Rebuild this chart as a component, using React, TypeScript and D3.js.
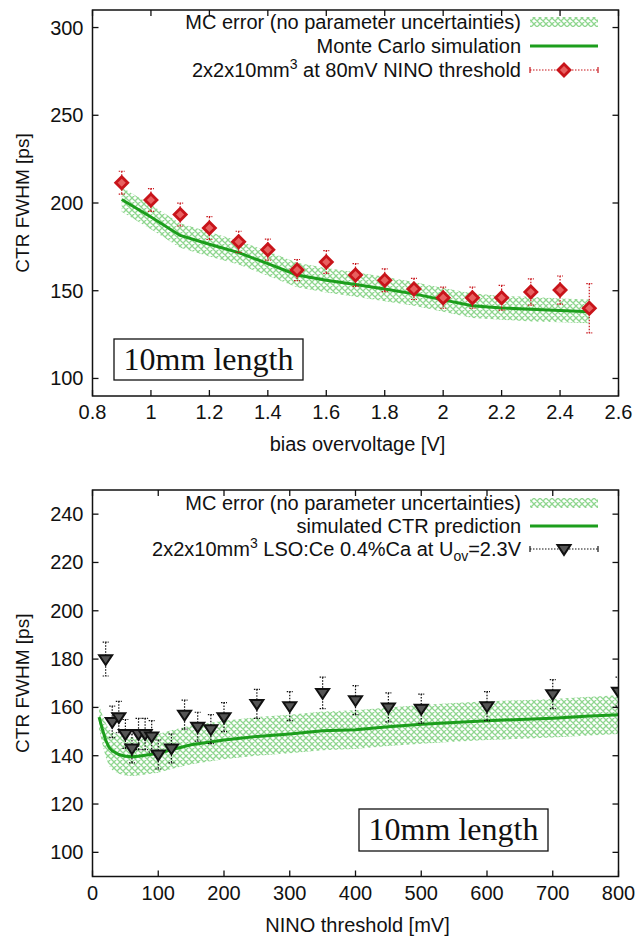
import React from "react";
import * as d3 from "d3";

// ---------- DATA: top panel (CTR vs bias overvoltage) ----------
const biasV = [0.9, 1.0, 1.1, 1.2, 1.3, 1.4, 1.5, 1.6, 1.7, 1.8, 1.9, 2.0, 2.1, 2.2, 2.3, 2.4, 2.5];
const biasMeas = [211.6, 201.7, 193.4, 185.7, 177.9, 173.4, 161.8, 166.4, 159, 156, 151, 146, 146, 146, 149.3, 150.4, 140];
const biasErr = [6.5, 6.5, 6.5, 6.5, 6, 6, 6, 6.5, 6.5, 6.5, 6, 6, 6, 7, 7.5, 8, 14];
const biasSim = [202, 192, 181.5, 176.5, 171.7, 165.4, 159, 156, 153.5, 151, 148.2, 144.8, 141.5, 140.2, 139.5, 138.7, 138];
const biasBandLo = [195, 185, 174.5, 169.5, 165, 158.5, 152, 149, 146.5, 144, 141.5, 138, 134.5, 133.5, 132.5, 132, 131.5];
const biasBandHi = [209, 199, 188.5, 183.5, 178.5, 172.5, 166, 163, 160.5, 158, 155, 151.5, 148.5, 147, 146.5, 145.5, 145];
const biasXTicks = [0.8, 1, 1.2, 1.4, 1.6, 1.8, 2, 2.2, 2.4, 2.6];
const biasYTicks = [100, 150, 200, 250, 300];

// ---------- DATA: bottom panel (CTR vs NINO threshold) ----------
const thrX = [20, 30, 40, 50, 60, 70, 80, 90, 100, 120, 140, 160, 180, 200, 250, 300, 350, 400, 450, 500, 600, 700, 800];
const thrMeas = [180, 154, 156, 149, 143, 149, 149, 148, 140.5, 143, 157, 152, 151, 156, 161.5, 160.5, 166, 163, 160, 159.5, 160.5, 165.5, 166.5];
const thrErr = [7, 6.5, 6.5, 6, 6, 6.5, 6.5, 6.5, 6, 6, 6, 6, 6, 6, 6, 6, 6.5, 6, 6, 6, 6, 6, 6];
const thrSimX = [10, 15, 20, 25, 30, 40, 50, 60, 70, 80, 100, 120, 150, 200, 250, 300, 350, 400, 450, 500, 550, 600, 650, 700, 750, 800];
const thrSim = [156, 151, 146.5, 143.5, 142, 140.5, 139.8, 139.6, 139.8, 140.2, 141, 142.5, 144.5, 146.5, 148, 149, 150.3, 150.8, 152, 153, 153.8, 154.5, 155, 155.5, 156.3, 157];
const thrBandLo = [151, 145, 139.5, 136, 134, 132.5, 131.8, 131.6, 131.8, 132.2, 133, 134.5, 136.5, 138.5, 140, 141, 142.3, 142.8, 144, 145, 145.8, 146.5, 147, 147.5, 148.3, 149];
const thrBandHi = [161, 157, 153.5, 151, 150, 148.5, 147.8, 147.6, 147.8, 148.2, 149, 150.5, 152.5, 154.5, 156, 157, 158.3, 158.8, 160, 161, 161.8, 162.5, 163, 163.5, 164.3, 165];
const thrXTicks = [0, 100, 200, 300, 400, 500, 600, 700, 800];
const thrYTicks = [100, 120, 140, 160, 180, 200, 220, 240];

const FONT = "'Liberation Sans', Arial, Helvetica, sans-serif";
const SERIF = "'Liberation Serif', 'Times New Roman', serif";
const GREEN = "#1c9e1c";
const RED = "#c8141a";
const FS = 20;

type PanelProps = {
  top: number;
  bottom: number;
  xDomain: [number, number];
  yDomain: [number, number];
  xTicks: number[];
  yTicks: number[];
  xFmt: (v: number) => string;
  xLabel: string;
  simX: number[];
  sim: number[];
  bandLo: number[];
  bandHi: number[];
  mx: number[];
  my: number[];
  me: number[];
  marker: "diamond" | "triangle";
  legend: React.ReactNode[];
  legendY: number[];
  box: { x: number; y: number; w: number; h: number };
};

const LEFT = 92.5;
const RIGHT = 618.5;

function Marker({ kind, x, y }: { kind: "diamond" | "triangle"; x: number; y: number }) {
  if (kind === "diamond") {
    const r = 6;
    return (
      <path
        d={`M${x},${y - r} L${x + r},${y} L${x},${y + r} L${x - r},${y} Z`}
        fill="#e86060"
        stroke={RED}
        strokeWidth={2.8}
      />
    );
  }
  const s = 6.5;
  return (
    <path
      d={`M${x - s},${y - s * 0.6} L${x + s},${y - s * 0.6} L${x},${y + s * 0.9} Z`}
      fill="#555"
      stroke="#111"
      strokeWidth={2}
    />
  );
}

function Panel(p: PanelProps) {
  const x = d3.scaleLinear().domain(p.xDomain).range([LEFT, RIGHT]);
  const y = d3.scaleLinear().domain(p.yDomain).range([p.bottom, p.top]);
  const pid = `hatch-${p.top}`;
  const area = d3
    .area<number>()
    .x((_, i) => x(p.simX[i]))
    .y0((_, i) => y(p.bandLo[i]))
    .y1((_, i) => y(p.bandHi[i]));
  const line = d3
    .line<number>()
    .x((_, i) => x(p.simX[i]))
    .y((v) => y(v));
  const errColor = p.marker === "diamond" ? RED : "#111";
  const tl = 6;
  const legX1 = 530;
  const legX2 = 598;
  const legTextX = 521;
  return (
    <g>
      <defs>
        <pattern id={pid} width={6} height={6} patternUnits="userSpaceOnUse">
          <path d="M0,0 L6,6 M6,0 L0,6 M-1,5 L1,7 M5,-1 L7,1 M-1,1 L1,-1 M5,7 L7,5" stroke="#8fd68f" strokeWidth={1.3} fill="none" />
        </pattern>
        <clipPath id={`clip-${p.top}`}>
          <rect x={LEFT} y={p.top} width={RIGHT - LEFT} height={p.bottom - p.top} />
        </clipPath>
      </defs>
      <g clipPath={`url(#clip-${p.top})`}>
        <path d={area(p.sim) || ""} fill={`url(#${pid})`} stroke="none" />
        <path d={line(p.sim) || ""} fill="none" stroke={GREEN} strokeWidth={3} />
        {p.mx.map((xv, i) => {
          const cx = x(xv);
          const y1 = y(p.my[i] + p.me[i]);
          const y2 = y(p.my[i] - p.me[i]);
          return (
            <g key={i}>
              <line x1={cx} x2={cx} y1={y1} y2={y2} stroke={errColor} strokeWidth={1.2} strokeDasharray="1.5,1.5" />
              <line x1={cx - 3} x2={cx + 3} y1={y1} y2={y1} stroke={errColor} strokeWidth={1.2} strokeDasharray="1.5,1" />
              <line x1={cx - 3} x2={cx + 3} y1={y2} y2={y2} stroke={errColor} strokeWidth={1.2} strokeDasharray="1.5,1" />
              <Marker kind={p.marker} x={cx} y={y(p.my[i])} />
            </g>
          );
        })}
      </g>
      {/* frame */}
      <rect x={LEFT} y={p.top} width={RIGHT - LEFT} height={p.bottom - p.top} fill="none" stroke="#111" strokeWidth={1.5} />
      {/* ticks */}
      {p.xTicks.map((t) => (
        <g key={`xt${t}`}>
          <line x1={x(t)} x2={x(t)} y1={p.bottom} y2={p.bottom - tl} stroke="#111" strokeWidth={1.3} />
          <line x1={x(t)} x2={x(t)} y1={p.top} y2={p.top + tl} stroke="#111" strokeWidth={1.3} />
          <text x={x(t)} y={p.bottom + 23} textAnchor="middle" fontFamily={FONT} fontSize={FS} fill="#111">
            {p.xFmt(t)}
          </text>
        </g>
      ))}
      {p.yTicks.map((t) => (
        <g key={`yt${t}`}>
          <line x1={LEFT} x2={LEFT + tl} y1={y(t)} y2={y(t)} stroke="#111" strokeWidth={1.3} />
          <line x1={RIGHT} x2={RIGHT - tl} y1={y(t)} y2={y(t)} stroke="#111" strokeWidth={1.3} />
          <text x={LEFT - 9} y={y(t) + 7} textAnchor="end" fontFamily={FONT} fontSize={FS} fill="#111">
            {t}
          </text>
        </g>
      ))}
      {/* axis titles */}
      <text x={(LEFT + RIGHT) / 2 + 2} y={p.bottom + 55} textAnchor="middle" fontFamily={FONT} fontSize={FS} fill="#111">
        {p.xLabel}
      </text>
      <text
        transform={`translate(29,${(p.top + p.bottom) / 2}) rotate(-90)`}
        textAnchor="middle"
        fontFamily={FONT}
        fontSize={19}
        fill="#111"
      >
        CTR FWHM [ps]
      </text>
      {/* legend */}
      {p.legend.map((txt, i) => (
        <text key={`lg${i}`} x={legTextX} y={p.legendY[i] + 7} textAnchor="end" fontFamily={FONT} fontSize={FS} fill="#111">
          {txt}
        </text>
      ))}
      <rect x={legX1} y={p.legendY[0] - 5} width={legX2 - legX1} height={10} fill={`url(#${pid})`} />
      <line x1={legX1} x2={legX2} y1={p.legendY[1]} y2={p.legendY[1]} stroke={GREEN} strokeWidth={3} />
      <g>
        <line x1={legX1} x2={legX2} y1={p.legendY[2]} y2={p.legendY[2]} stroke={errColor} strokeWidth={1.2} strokeDasharray="1.5,1.5" />
        <line x1={legX1} x2={legX1} y1={p.legendY[2] - 3} y2={p.legendY[2] + 3} stroke={errColor} strokeWidth={1.2} />
        <line x1={legX2} x2={legX2} y1={p.legendY[2] - 3} y2={p.legendY[2] + 3} stroke={errColor} strokeWidth={1.2} />
        <Marker kind={p.marker} x={(legX1 + legX2) / 2} y={p.legendY[2]} />
      </g>
      {/* annotation box */}
      <rect x={p.box.x} y={p.box.y} width={p.box.w} height={p.box.h} fill="white" stroke="#111" strokeWidth={1.3} />
      <text x={p.box.x + p.box.w / 2} y={p.box.y + p.box.h / 2 + 10} textAnchor="middle" fontFamily={SERIF} fontSize={32} fill="#111">
        10mm length
      </text>
    </g>
  );
}

export default function App() {
  return (
    <svg width={636} height={936} style={{ position: "absolute", left: 0, top: 0, background: "white" }}>
      <rect width={636} height={936} fill="white" />
      <Panel
        top={10}
        bottom={396}
        xDomain={[0.8, 2.6]}
        yDomain={[90, 310]}
        xTicks={biasXTicks}
        yTicks={biasYTicks}
        xFmt={(v) => String(Math.round(v * 10) / 10)}
        xLabel="bias overvoltage [V]"
        simX={biasV}
        sim={biasSim}
        bandLo={biasBandLo}
        bandHi={biasBandHi}
        mx={biasV}
        my={biasMeas}
        me={biasErr}
        marker="diamond"
        legendY={[22, 46, 70]}
        legend={[
          "MC error (no parameter uncertainties)",
          "Monte Carlo simulation",
          <>
            2x2x10mm<tspan dy={-8} fontSize={14}>3</tspan>
            <tspan dy={8}> at 80mV NINO threshold</tspan>
          </>,
        ]}
        box={{ x: 114, y: 339, w: 189, h: 41 }}
      />
      <Panel
        top={490}
        bottom={876.5}
        xDomain={[0, 800]}
        yDomain={[90, 250]}
        xTicks={thrXTicks}
        yTicks={thrYTicks}
        xFmt={(v) => String(v)}
        xLabel="NINO threshold [mV]"
        simX={thrSimX}
        sim={thrSim}
        bandLo={thrBandLo}
        bandHi={thrBandHi}
        mx={thrX}
        my={thrMeas}
        me={thrErr}
        marker="triangle"
        legendY={[503, 526, 549]}
        legend={[
          "MC error (no parameter uncertainties)",
          "simulated CTR prediction",
          <>
            2x2x10mm<tspan dy={-8} fontSize={14}>3</tspan>
            <tspan dy={8}> LSO:Ce 0.4%Ca at U</tspan>
            <tspan dy={5} fontSize={14}>ov</tspan>
            <tspan dy={-5}>=2.3V</tspan>
          </>,
        ]}
        box={{ x: 359, y: 809, w: 189, h: 42 }}
      />
    </svg>
  );
}
